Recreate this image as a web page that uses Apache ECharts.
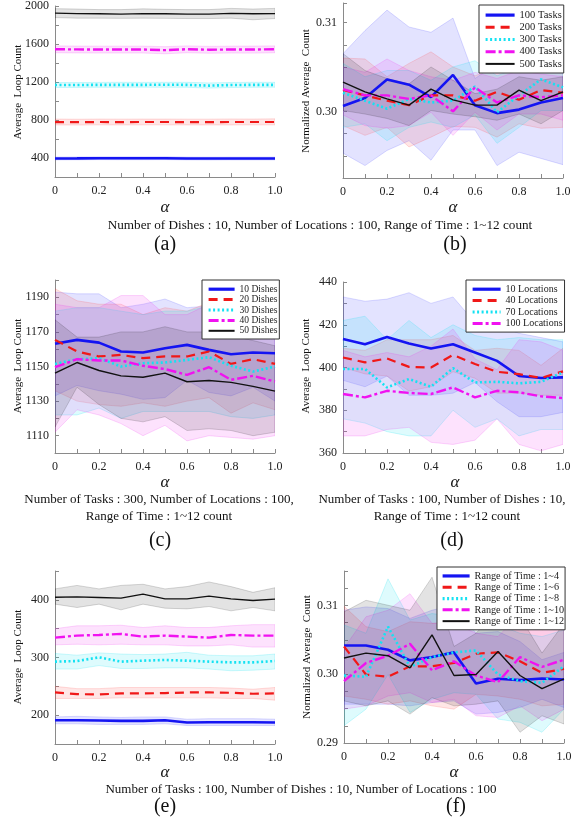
<!DOCTYPE html>
<html><head><meta charset="utf-8">
<script src="https://cdn.jsdelivr.net/npm/echarts@6/dist/echarts.min.js"></script>
<style>html,body{margin:0;padding:0;background:#fff}#c{width:588px;height:823px}</style>
</head><body><div id="c"></div>
<script>
const ALPHA = [0,0.1,0.2,0.3,0.4,0.5,0.6,0.7,0.8,0.9,1.0];

// (a) Number of tasks
const a_T100 = [395,396,398,397,397,398,395,394,395,395,395];
const a_T100_hi = [410,411,412,412,412,413,410,409,410,410,410];
const a_T100_lo = [380,381,383,382,382,383,380,379,380,380,380];
const a_T200 = [778,777,779,778,779,779,778,778,779,779,779];
const a_T200_hi = [810,808,810,809,810,810,809,809,811,810,812];
const a_T200_lo = [748,747,749,748,749,749,748,748,748,749,749];
const a_T300 = [1168,1168,1170,1170,1170,1171,1170,1162,1168,1170,1170];
const a_T300_hi = [1195,1194,1196,1197,1196,1197,1197,1190,1195,1197,1197];
const a_T300_lo = [1142,1143,1144,1144,1145,1145,1144,1136,1142,1144,1145];
const a_T400 = [1545,1543,1542,1542,1542,1535,1545,1540,1542,1542,1545];
const a_T400_hi = [1580,1578,1577,1577,1577,1572,1580,1575,1577,1578,1580];
const a_T400_lo = [1508,1506,1505,1505,1505,1497,1508,1503,1505,1504,1508];
const a_T500 = [1925,1920,1918,1915,1920,1918,1915,1915,1922,1918,1920];
const a_T500_hi = [1972,1968,1962,1962,1970,1965,1962,1962,1975,1968,1975];
const a_T500_lo = [1878,1872,1872,1870,1872,1870,1868,1868,1872,1855,1868];

// (b) Number of tasks, normalized
const b_T100 = [0.3006,0.3015,0.3036,0.3030,0.3016,0.3041,0.3007,0.2998,0.3002,0.3010,0.3015];
const b_T100_hi = [0.3065,0.3091,0.3114,0.3095,0.3089,0.3105,0.3037,0.3054,0.3069,0.3080,0.3089];
const b_T100_lo = [0.2953,0.2939,0.2956,0.2967,0.2945,0.2979,0.2979,0.2939,0.2954,0.2947,0.2940];
const b_T200 = [0.3024,0.3018,0.3012,0.3007,0.3018,0.3018,0.3012,0.3022,0.3013,0.3024,0.3021];
const b_T200_hi = [0.3060,0.3059,0.3039,0.3054,0.3067,0.3050,0.3040,0.3050,0.3052,0.3050,0.3055];
const b_T200_lo = [0.2984,0.2973,0.2982,0.2960,0.2971,0.2983,0.2982,0.2971,0.2986,0.2981,0.2982];
const b_T300 = [0.3021,0.3012,0.3003,0.3014,0.3010,0.3012,0.3028,0.2999,0.3018,0.3036,0.3027];
const b_T300_hi = [0.3054,0.3039,0.3046,0.3046,0.3035,0.3050,0.3057,0.3040,0.3050,0.3061,0.3057];
const b_T300_lo = [0.2982,0.2986,0.2967,0.2982,0.2988,0.2982,0.2996,0.2964,0.2982,0.3001,0.3001];
const b_T400 = [0.3025,0.3018,0.3018,0.3014,0.3018,0.3000,0.3027,0.3010,0.3018,0.3016,0.3018];
const b_T400_hi = [0.3050,0.3044,0.3059,0.3046,0.3039,0.3035,0.3044,0.3037,0.3046,0.3042,0.3039];
const b_T400_lo = [0.2996,0.2984,0.2981,0.2984,0.2999,0.2973,0.2999,0.2979,0.2997,0.2997,0.2990];
const b_T500 = [0.3033,0.3022,0.3014,0.3007,0.3025,0.3013,0.3007,0.3007,0.3024,0.3012,0.3022];
const b_T500_hi = [0.3065,0.3046,0.3037,0.3031,0.3050,0.3035,0.3020,0.3025,0.3039,0.3035,0.3039];
const b_T500_lo = [0.3001,0.2997,0.2992,0.2984,0.3001,0.2997,0.2994,0.2990,0.2997,0.2986,0.3001];

// (c) Number of dishes
const c_D10 = [1163.1,1165.4,1163.8,1158.7,1158.1,1160.6,1162.5,1159.6,1157.1,1158.1,1157.7];
const c_D10_hi = [1193,1192,1192,1184,1186,1189,1184,1185,1182,1175,1168];
const c_D10_lo = [1133,1139,1136,1134,1131,1132,1142,1135,1133,1138,1130];
const c_D20 = [1165.4,1158.7,1155.8,1156.7,1154.8,1155.8,1155.8,1158.7,1151.5,1154.2,1151.5];
const c_D20_hi = [1195,1188,1186,1186,1180,1184,1182,1187,1180,1182,1178];
const c_D20_lo = [1136,1130,1128,1127,1129,1127,1130,1132,1123,1129,1125];
const c_D30 = [1151.5,1154.2,1154.8,1150.0,1151.9,1152.3,1153.8,1155.4,1150.4,1147.1,1150.0];
const c_D30_hi = [1182,1184,1184,1182,1180,1182,1182,1185,1182,1178,1181];
const c_D30_lo = [1122,1122,1126,1120,1124,1124,1124,1124,1121,1120,1122];
const c_D40 = [1149.6,1154.2,1153.5,1153.5,1150.4,1148.5,1145.2,1149.6,1142.3,1144.6,1141.3];
const c_D40_hi = [1186,1184,1184,1191,1191,1180,1180,1186,1175,1172,1172];
const c_D40_lo = [1112,1125,1122,1117,1110,1116,1107,1110,1109,1108,1110];
const c_D50 = [1146.2,1152.3,1147.7,1144.6,1143.8,1146.2,1141.2,1141.9,1140.8,1138.5,1135.8];
const c_D50_hi = [1177,1167,1167,1170,1170,1173,1170,1170,1168,1165,1162];
const c_D50_lo = [1115,1138,1128,1120,1118,1121,1113,1114,1113,1110,1112];

// (d) Number of locations
const d_L10 = [413.3,410.9,414.3,411.2,408.9,410.9,407.0,403.1,396.0,395.1,395.4];
const d_L10_hi = [433,431,432,435,430,433,421,420,416,414,412];
const d_L10_lo = [394,391,396,387,387,388,393,384,377,377,379];
const d_L40 = [404.7,402.4,404.2,400.3,400.0,405.9,401.6,398.0,396.9,395.1,398.2];
const d_L40_hi = [409,408,413,413,413,415,408,409,408,401,409];
const d_L40_lo = [400,397,396,389,391,398,395,388,388,387,387];
const d_L70 = [399.3,399.3,390.7,394.6,391.0,399.7,393.0,393.3,392.6,393.3,397.7];
const d_L70_hi = [422,424,413,422,414,420,415,413,414,413,413];
const d_L70_lo = [376,374,370,368,368,380,372,376,368,371,371];
const d_L100 = [387.6,386.0,389.1,388.1,387.6,390.7,386.0,389.1,388.4,386.5,385.7];
const d_L100_hi = [408,405,407,405,410,418,404,399,413,412,408];
const d_L100_lo = [368,368,371,372,365,364,366,376,364,361,364];

// (e) Range of time
const e_R4 = [191.3,191.3,190.7,190.1,190.1,191.3,187.2,187.8,187.8,187.8,187.2];
const e_R4_hi = [197,198,197,196,197,197,193,194,194,194,193];
const e_R4_lo = [185,185,184,184,184,185,182,182,182,182,182];
const e_R6 = [239.4,236.5,235.9,237.7,237.7,238.3,239.4,239.4,238.8,237.1,237.7];
const e_R6_hi = [250,246,246,248,248,248,248,248,247,245,248];
const e_R6_lo = [229,229,229,230,230,230,230,230,229,229,226];
const e_R8 = [292.8,293.9,300.3,292.8,294.5,295.7,294.5,292.8,291.6,291.6,293.9];
const e_R8_hi = [307,304,308,306,305,306,309,304,303,303,306];
const e_R8_lo = [280,280,286,281,281,282,282,280,277,278,280];
const e_R10 = [334.5,338.0,339.1,340.9,336.2,338.0,336.2,334.5,339.1,338.0,338.0];
const e_R10_hi = [350,355,355,356,352,355,352,352,355,357,357];
const e_R10_lo = [322,323,322,323,322,322,320,320,322,318,318];
const e_R12 = [404.6,405.2,404.1,402.9,409.9,401.7,401.7,406.4,401.7,398.8,401.2];
const e_R12_hi = [419,425,419,425,427,419,423,431,423,413,421];
const e_R12_lo = [392.5,386.7,392.5,382.6,392.5,385.5,384.3,388.4,380.9,386.7,380.9];

// (f) Range of time, normalized
const f_R4 = [0.30417,0.30417,0.30355,0.30201,0.30249,0.30317,0.29866,0.29933,0.29914,0.29938,0.29923];
const f_R4_hi = [0.30930,0.30978,0.30954,0.30811,0.30930,0.31002,0.30595,0.30619,0.30475,0.30211,0.30317];
const f_R4_lo = [0.29564,0.29564,0.29564,0.29540,0.29588,0.29612,0.29420,0.29444,0.29516,0.29635,0.29516];
const f_R6 = [0.30403,0.29995,0.29962,0.30115,0.30115,0.30163,0.30297,0.30317,0.30187,0.30019,0.30077];
const f_R6_hi = [0.30988,0.30691,0.30619,0.30763,0.30739,0.30763,0.30930,0.30978,0.30882,0.30643,0.30787];
const f_R6_lo = [0.29683,0.29635,0.29564,0.29612,0.29540,0.29492,0.29707,0.29683,0.29635,0.29540,0.29564];
const f_R8 = [0.29981,0.29962,0.30691,0.30106,0.30249,0.30317,0.30345,0.29995,0.29899,0.29875,0.30115];
const f_R8_hi = [0.30715,0.30595,0.31386,0.30787,0.30882,0.30835,0.30787,0.30715,0.30595,0.30547,0.30643];
const f_R8_lo = [0.29252,0.29492,0.29995,0.29444,0.29635,0.29731,0.29707,0.29348,0.29300,0.29156,0.29492];
const f_R10 = [0.29899,0.30163,0.30269,0.30441,0.30058,0.30187,0.29981,0.29885,0.30249,0.30106,0.30211];
const f_R10_hi = [0.30379,0.30835,0.30930,0.31170,0.30739,0.30739,0.30595,0.30547,0.30882,0.30715,0.30787];
const f_R10_lo = [0.29492,0.29540,0.29683,0.29731,0.29588,0.29635,0.29396,0.29372,0.29540,0.29324,0.29492];
const f_R12 = [0.30235,0.30307,0.30269,0.30091,0.30571,0.29981,0.29995,0.30331,0.29981,0.29789,0.29933];
const f_R12_hi = [0.30906,0.31074,0.31002,0.30930,0.31410,0.30403,0.30595,0.30930,0.30835,0.30307,0.30739];
const f_R12_lo = [0.29612,0.29540,0.29612,0.29420,0.29659,0.29540,0.29564,0.29612,0.29156,0.29396,0.29276];

const NAMES_B = ['100 Tasks','200 Tasks','300 Tasks','400 Tasks','500 Tasks'];
const NAMES_C = ['10 Dishes','20 Dishes','30 Dishes','40 Dishes','50 Dishes'];
const NAMES_D = ['10 Locations','40 Locations','70 Locations','100 Locations'];
const NAMES_F = ['Range of Time : 1~4','Range of Time : 1~6','Range of Time : 1~8','Range of Time : 1~10','Range of Time : 1~12'];

const FONT = 'Liberation Serif';
const STY = {
  blue:    {color:'#1414f2', width:2.6, lw:3.2, type:'solid', fill:'rgba(60,60,255,0.14)', edge:'rgba(60,60,255,0.25)'},
  red:     {color:'#f01818', width:2.2, lw:3.0, type:[9,6], fill:'rgba(255,60,60,0.13)', edge:'rgba(255,60,60,0.25)'},
  cyan:    {color:'#14e2f2', width:2.6, lw:3.2, type:[2,2.5], fill:'rgba(0,225,240,0.13)', edge:'rgba(0,225,240,0.28)'},
  magenta: {color:'#f012f0', width:2.4, lw:3.0, type:[10,3,3,3], fill:'rgba(240,30,240,0.13)', edge:'rgba(240,30,240,0.25)'},
  black:   {color:'#111111', width:1.4, lw:2.0, type:'solid', fill:'rgba(0,0,0,0.11)', edge:'rgba(0,0,0,0.22)'}
};
const ORDER = ['blue','red','cyan','magenta','black'];

const series = [];
function addPanel(gi, names, means, his, los) {
  means.forEach((m, k) => {
    const s = STY[ORDER[k]];
    const lo = los[k], hi = his[k];
    series.push({type:'custom', xAxisIndex:gi, yAxisIndex:gi, silent:true, z:1, clip:true,
      data: ALPHA.map((x,i)=>[x, lo[i], hi[i]]),
      encode:{x:0, y:[1,2]},
      renderItem:(params, api)=>{
        if (params.dataIndex !== 0) return null;
        const pts = [];
        for (let i=0;i<ALPHA.length;i++) pts.push(api.coord([ALPHA[i], hi[i]]));
        for (let i=ALPHA.length-1;i>=0;i--) pts.push(api.coord([ALPHA[i], lo[i]]));
        return {type:'polygon', shape:{points:pts}, style:{fill:s.fill, stroke:s.edge, lineWidth:0.7}};
      }});
  });
  means.forEach((m, k) => {
    const s = STY[ORDER[k]];
    series.push({type:'line', name:names[k], xAxisIndex:gi, yAxisIndex:gi, symbol:'none', z:5,
      data: ALPHA.map((x,i)=>[x, m[i]]), itemStyle:{color:s.color},
      lineStyle:{color:s.color, width:s.width, type:s.type}});
  });
}
addPanel(0, ['a1','a2','a3','a4','a5'], [a_T100,a_T200,a_T300,a_T400,a_T500], [a_T100_hi,a_T200_hi,a_T300_hi,a_T400_hi,a_T500_hi], [a_T100_lo,a_T200_lo,a_T300_lo,a_T400_lo,a_T500_lo]);
addPanel(1, NAMES_B, [b_T100,b_T200,b_T300,b_T400,b_T500], [b_T100_hi,b_T200_hi,b_T300_hi,b_T400_hi,b_T500_hi], [b_T100_lo,b_T200_lo,b_T300_lo,b_T400_lo,b_T500_lo]);
addPanel(2, NAMES_C, [c_D10,c_D20,c_D30,c_D40,c_D50], [c_D10_hi,c_D20_hi,c_D30_hi,c_D40_hi,c_D50_hi], [c_D10_lo,c_D20_lo,c_D30_lo,c_D40_lo,c_D50_lo]);
addPanel(3, NAMES_D, [d_L10,d_L40,d_L70,d_L100], [d_L10_hi,d_L40_hi,d_L70_hi,d_L100_hi], [d_L10_lo,d_L40_lo,d_L70_lo,d_L100_lo]);
addPanel(4, ['e1','e2','e3','e4','e5'], [e_R4,e_R6,e_R8,e_R10,e_R12], [e_R4_hi,e_R6_hi,e_R8_hi,e_R10_hi,e_R12_hi], [e_R4_lo,e_R6_lo,e_R8_lo,e_R10_lo,e_R12_lo]);
addPanel(5, NAMES_F, [f_R4,f_R6,f_R8,f_R10,f_R12], [f_R4_hi,f_R6_hi,f_R8_hi,f_R10_hi,f_R12_hi], [f_R4_lo,f_R6_lo,f_R8_lo,f_R10_lo,f_R12_lo]);

const grids = [
  {left:55, top:6, width:220, height:171},
  {left:343, top:3, width:220, height:175},
  {left:55, top:280, width:220, height:173},
  {left:343, top:282, width:220, height:171},
  {left:55, top:571, width:220, height:173},
  {left:344, top:571, width:220, height:172}
];
const axCommon = {
  axisLine:{show:true, lineStyle:{color:'#8a8a8a', width:1}},
  axisTick:{show:true, inside:true, length:4, lineStyle:{color:'#8a8a8a'}},
  splitLine:{show:false}
};
const xAxes = grids.map((g,i)=>Object.assign({}, axCommon, {
  type:'value', gridIndex:i, min:0, max:1, interval:0.1,
  axisLabel:{fontFamily:FONT, fontSize:12, color:'#222', margin:8,
    formatter:v=>{const k=Math.round(v*10); if(k%2) return ''; return k===0?'0':(k/10).toFixed(1);}}
}));
function yAx(i, min, max, interval, show, fmt) {
  return Object.assign({}, axCommon, {
    type:'value', gridIndex:i, min, max, interval,
    axisLabel:{fontFamily:FONT, fontSize:12, color:'#222', margin:6, formatter:v=>show(v)?fmt(v):''}
  });
}
const yAxes = [
  yAx(0, 200, 2000, 200, v=>Math.round(v)%400===0 && v>=400, v=>String(Math.round(v))),
  yAx(1, 0.2925, 0.3122, 0.0025, v=>Math.round(v*10000)%100===0, v=>v.toFixed(2)),
  yAx(2, 1100, 1200, 10, v=>(Math.round(v)-1110)%20===0, v=>String(Math.round(v))),
  yAx(3, 360, 440, 10, v=>Math.round(v)%20===0, v=>String(Math.round(v))),
  yAx(4, 150, 450, 50, v=>Math.round(v)%100===0, v=>String(Math.round(v))),
  yAx(5, 0.29, 0.315, 0.0025, v=>Math.round(v*10000)%100===0, v=>v.toFixed(2))
];

function leg(names, left, top, iw, rowH, fs, pad) {
  return {data:names.map((n,k)=>({name:n, lineStyle:{width:STY[ORDER[k]].lw}})),
    orient:'vertical', left, top, itemWidth:iw, itemHeight:rowH, itemGap:0,
    padding:pad, borderColor:'#333', borderWidth:1, backgroundColor:'#fff', selectedMode:false,
    itemStyle:{opacity:0},
    textStyle:{fontFamily:FONT, fontSize:fs, lineHeight:rowH, color:'#222'}};
}
const legends = [
  leg(NAMES_B, 479, 5, 29, 12.2, 10.5, [4,2,3,5]),
  leg(NAMES_C, 202, 280, 26, 10.4, 9.5, [4,2,3,5]),
  leg(NAMES_D, 466, 280, 28, 11.4, 10, [3.5,2,3,5]),
  leg(NAMES_F, 437, 567, 27, 11.3, 10.2, [3.3,1,3,4])
];

function txt(x, y, s, fs, opts) {
  return Object.assign({type:'text', x, y, style:{text:s, fontFamily:FONT, fontSize:fs, fill:'#111', align:'center', verticalAlign:'middle'}}, opts||{});
}
function alpha(x, y){ const t = txt(x, y, 'α', 17); t.style.fontStyle='italic'; return t; }
function yname(x, y, s){ const t = txt(x, y, s, 11); t.rotation = Math.PI/2; return t; }
const graphics = [
  alpha(165,208), alpha(453,208), alpha(165,483), alpha(455,483), alpha(165,773), alpha(454,773),
  txt(320,226,'Number of Dishes : 10, Number of Locations : 100, Range of Time : 1~12 count',13.2),
  txt(165,245,'(a)',20), txt(455,245,'(b)',20),
  txt(159,500,'Number of Tasks : 300, Number of Locations : 100,',13),
  txt(159,517,'Range of Time : 1~12 count',13),
  txt(442,500,'Number of Tasks : 100, Number of Dishes : 10,',13),
  txt(447,517,'Range of Time : 1~12 count',13),
  txt(160,541,'(c)',20), txt(452,541,'(d)',20),
  txt(301,790,'Number of Tasks : 100, Number of Dishes : 10, Number of Locations : 100',13),
  txt(165,807,'(e)',20), txt(456,807,'(f)',20),
  yname(18,92,'Average  Loop Count'), yname(306,91,'Normalized Average  Count'),
  yname(18,366,'Average  Loop Count'), yname(306,366,'Average  Loop Count'),
  yname(18,657,'Average  Loop Count'), yname(307,657,'Normalized Average  Count')
];

const chart = echarts.init(document.getElementById('c'), null, {renderer:'canvas'});
chart.setOption({
  animation:false, backgroundColor:'#fff',
  grid:grids, xAxis:xAxes, yAxis:yAxes, legend:legends, series, graphic:graphics
});
</script></body></html>
